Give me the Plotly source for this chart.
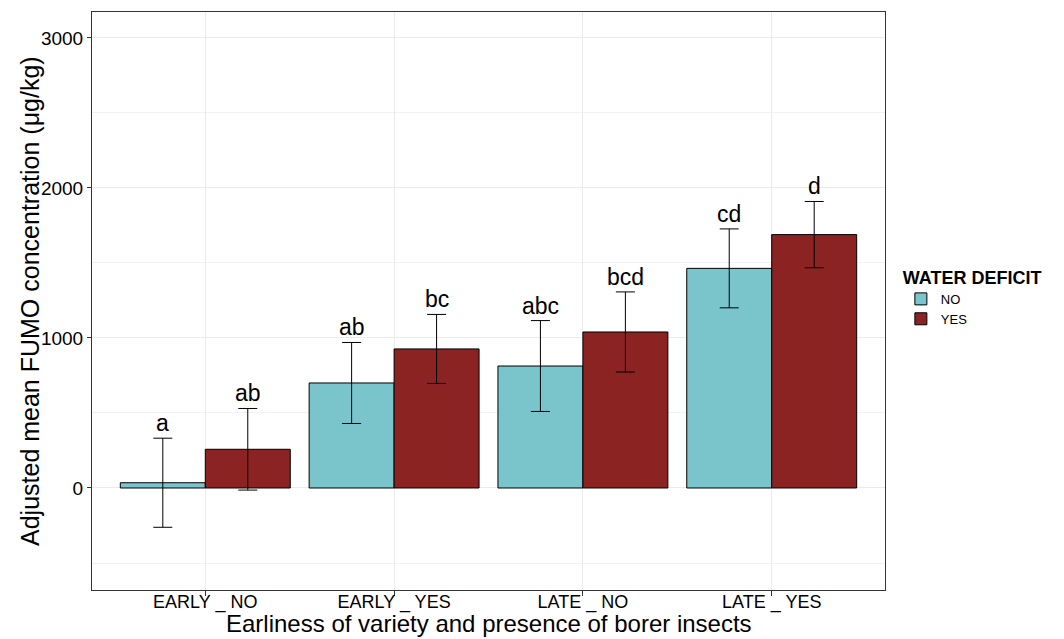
import plotly.graph_objects as go

categories = ["EARLY _ NO", "EARLY _ YES", "LATE _ NO", "LATE _ YES"]
no_means = [35, 700, 813, 1464]
no_err = [297, 270, 303, 263]
yes_means = [258, 927, 1040, 1689]
yes_err = [272, 230, 267, 221]
no_letters = ["a", "ab", "abc", "cd"]
yes_letters = ["ab", "bc", "bcd", "d"]

CYAN = "#7AC4CC"
RED = "#8B2323"
FONT = "Liberation Sans, Arial, sans-serif"

fig = go.Figure()
fig.add_trace(go.Bar(
    x=categories, y=no_means, name="NO", marker=dict(color=CYAN, line=dict(color="black", width=1)),
    error_y=dict(type="data", array=no_err, color="black", thickness=1, width=9.5)))
fig.add_trace(go.Bar(
    x=categories, y=yes_means, name="YES", marker=dict(color=RED, line=dict(color="black", width=1)),
    error_y=dict(type="data", array=yes_err, color="black", thickness=1, width=9.5)))

annotations = []
for i in range(len(categories)):
    for off, m, e, lab in [(-0.225, no_means[i], no_err[i], no_letters[i]),
                           (0.225, yes_means[i], yes_err[i], yes_letters[i])]:
        annotations.append(dict(x=i + off, y=m + e, xref="x", yref="y", text=lab, showarrow=False,
                                yanchor="bottom", yshift=0, font=dict(size=23, color="black", family=FONT)))

# axis titles as annotations for exact placement
annotations.append(dict(x=0.5, y=0, xref="paper", yref="paper", yanchor="middle", yshift=-33,
                        text="Earliness of variety and presence of borer insects", showarrow=False,
                        font=dict(size=24, color="black", family=FONT)))
annotations.append(dict(x=0, y=0.5, xref="paper", yref="paper", xanchor="center", xshift=-62,
                        text="Adjusted mean FUMO concentration (μg/kg)", showarrow=False, textangle=-90,
                        font=dict(size=25, color="black", family=FONT)))

fig.update_layout(
    width=1064, height=639,
    margin=dict(l=92, r=179, t=12, b=49, autoexpand=False),
    paper_bgcolor="white", plot_bgcolor="white",
    barmode="group", bargap=0.1, bargroupgap=0,
    font=dict(family=FONT, color="black"),
    annotations=annotations,
    legend=dict(title=dict(text="<b>WATER DEFICIT</b>", font=dict(size=18, family=FONT)),
                font=dict(size=13, family=FONT), x=1.02, xanchor="left", y=0.57, yanchor="top",
                tracegroupgap=0, itemwidth=30),
    xaxis=dict(range=[-0.6, 3.6], showline=True, mirror=True, linecolor="#333333", linewidth=1,
               showgrid=True, gridcolor="#EBEBEB", ticks="outside", ticklen=5, tickcolor="#333333",
               tickfont=dict(size=18, color="black"), ticklabelstandoff=-10, automargin=False),
    yaxis=dict(range=[-680, 3173], showline=True, mirror=True, linecolor="#333333", linewidth=1,
               tickvals=[0, 1000, 2000, 3000], showgrid=True, gridcolor="#EBEBEB", zeroline=False,
               minor=dict(tickvals=[-500, 500, 1500, 2500], showgrid=True, gridcolor="#F2F2F2"),
               ticks="outside", ticklen=4, tickcolor="#333333", tickfont=dict(size=19, color="black"),
               automargin=False),
)

fig.write_html("out.html")
